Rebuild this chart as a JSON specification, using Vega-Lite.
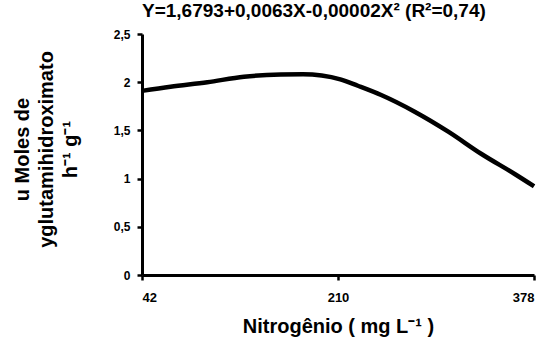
{
  "$schema": "https://vega.github.io/schema/vega-lite/v6.json",
  "autosize": "none",
  "width": 392,
  "height": 241,
  "padding": {"left": 142, "top": 34, "right": 12, "bottom": 62},
  "background": "white",
  "config": {
    "view": {"stroke": null},
    "font": "Liberation Sans",
    "axis": {"grid": false, "domainColor": "black", "tickColor": "black", "labelColor": "black", "titleColor": "black"}
  },
  "title": {
    "text": "Y=1,6793+0,0063X-0,00002X² (R²=0,74)",
    "anchor": "start",
    "frame": "group",
    "offset": 7,
    "fontSize": 19,
    "fontWeight": "bold",
    "font": "Liberation Sans",
    "color": "black"
  },
  "data": {
    "values": [
      {"n": 42, "v": 1.91},
      {"n": 66.4, "v": 1.953},
      {"n": 98, "v": 2.0},
      {"n": 129.4, "v": 2.057},
      {"n": 161, "v": 2.08},
      {"n": 180, "v": 2.083},
      {"n": 196, "v": 2.07},
      {"n": 212, "v": 2.03},
      {"n": 227, "v": 1.963},
      {"n": 247, "v": 1.867},
      {"n": 275.7, "v": 1.694},
      {"n": 304.5, "v": 1.487},
      {"n": 333, "v": 1.255},
      {"n": 361.8, "v": 1.045},
      {"n": 378, "v": 0.92}
    ]
  },
  "mark": {"type": "line", "color": "black", "strokeWidth": 4.5, "interpolate": "monotone"},
  "encoding": {
    "x": {
      "field": "n",
      "type": "quantitative",
      "scale": {"domain": [42, 378], "nice": false, "zero": false},
      "axis": {
        "values": [42, 210, 378],
        "title": "Nitrogênio ( mg L⁻¹ )",
        "titleFontSize": 20,
        "titleFontWeight": "bold",
        "titlePadding": 12,
        "labelFontSize": 13,
        "labelFontWeight": "bold",
        "labelPadding": 11,
        "domainWidth": 3,
        "tickWidth": 2.5,
        "tickSize": 5
      }
    },
    "y": {
      "field": "v",
      "type": "quantitative",
      "scale": {"domain": [0, 2.5], "nice": false},
      "axis": {
        "values": [0, 0.5, 1, 1.5, 2, 2.5],
        "format": "~g",
        "labelExpr": "replace(datum.label, '.', ',')",
        "title": ["u Moles de", "yglutamihidroximato", "h⁻¹ g⁻¹"],
        "titleFontSize": 20,
        "titleFontWeight": "bold",
        "titleLineHeight": 24,
        "titlePadding": 33,
        "titleY": 115,
        "labelFontSize": 12,
        "labelFontWeight": "bold",
        "labelPadding": 7,
        "domainWidth": 3,
        "tickWidth": 2.5,
        "tickSize": 5
      }
    }
  }
}
